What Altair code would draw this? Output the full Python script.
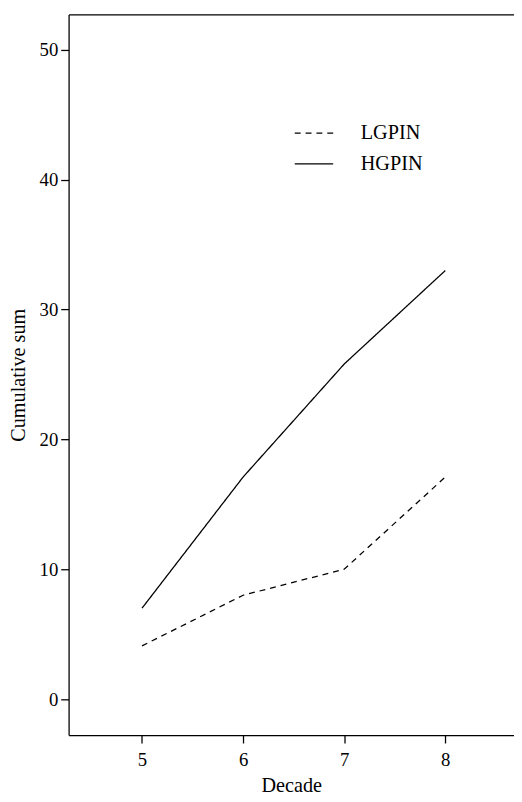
import altair as alt
import pandas as pd

decades = [5, 6, 7, 8]
lgpin = [4.1, 8.0, 10.0, 17.1]
hgpin = [7.0, 17.1, 25.8, 33.0]
series = ["LGPIN", "HGPIN"]
x_ticks = [5, 6, 7, 8]
y_ticks = [0, 10, 20, 30, 40, 50]

df = pd.DataFrame({
    "Decade": decades * 2,
    "Value": lgpin + hgpin,
    "Series": ["LGPIN"] * len(decades) + ["HGPIN"] * len(decades),
})

FONT = "Liberation Serif"
xscale = alt.Scale(domain=[4.274, 8.68], nice=False, zero=False)
yscale = alt.Scale(domain=[-2.77, 52.72], nice=False, zero=False)

lines = alt.Chart(df).mark_line(color="black", strokeWidth=1.3).encode(
    x=alt.X("Decade:Q", scale=xscale,
            axis=alt.Axis(values=x_ticks, title="Decade", labelPadding=8,
                          titleBaseline="alphabetic", titleY=57)),
    y=alt.Y("Value:Q", scale=yscale,
            axis=alt.Axis(values=y_ticks, title="Cumulative sum", labelPadding=3,
                          titleBaseline="middle", titleX=-50.5, titleY=365.6,
                          titleAlign="center", titleAngle=270)),
    strokeDash=alt.StrokeDash(
        "Series:N",
        scale=alt.Scale(domain=series, range=[[6, 5], [1, 0]]),
        legend=alt.Legend(
            title=None, orient="none", legendX=228.5, legendY=100,
            symbolType="stroke", symbolSize=1521, symbolStrokeColor="black",
            symbolStrokeWidth=1.3, labelFont=FONT, labelFontSize=20.5,
            labelColor="black", labelOffset=27, rowPadding=-0.5, padding=0,
        ),
    ),
    detail="Series:N",
)

top = alt.Chart(df).mark_rule(opacity=0).encode(
    x=alt.X("Decade:Q", scale=xscale,
            axis=alt.Axis(orient="top", title=None, labels=False, ticks=False)),
)

chart = alt.layer(lines, top).resolve_axis(x="independent").properties(
    width=452, height=731.3,
    autosize=alt.AutoSizeParams(type="none"),
    padding={"left": 61.5, "top": 0.7, "right": 0, "bottom": 61},
).configure_view(stroke=None).configure_axis(
    grid=False, domainColor="black", domainWidth=1.3,
    tickColor="black", tickSize=8, tickWidth=1.3,
    labelFont=FONT, labelFontSize=19, labelColor="black",
    titleFont=FONT, titleFontSize=20.5, titleFontWeight="normal", titleColor="black",
)

chart.save("out.html", embed_options={"renderer": "svg", "actions": False})
